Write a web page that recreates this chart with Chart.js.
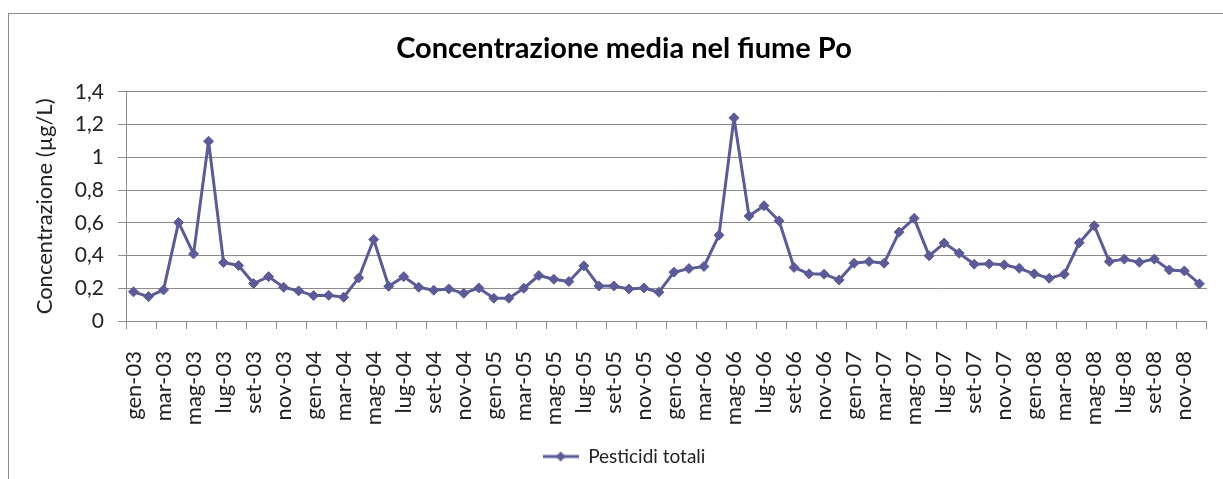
<!DOCTYPE html>
<html>
<head>
<meta charset="utf-8">
<script src="https://cdn.jsdelivr.net/npm/chart.js@4/dist/chart.umd.min.js"></script>
<style>
  html, body { margin: 0; padding: 0; background: #fff; overflow: hidden; }
  #frame { position: absolute; left: 8px; top: 13px; width: 1300px; height: 500px; border: 1px solid #8c8c8c; }
  #chart { position: absolute; left: 0; top: 0; }
</style>
</head>
<body>
<div id="frame"></div>
<canvas id="chart" width="1248" height="479"></canvas>
<script>
const months = ["gen", "feb", "mar", "apr", "mag", "giu", "lug", "ago", "set", "ott", "nov", "dic"];
const years = ["03", "04", "05", "06", "07", "08"];
const seriesName = "Pesticidi totali";
const pesticidi = [
  0.178, 0.149, 0.19, 0.602, 0.41, 1.098, 0.357, 0.339, 0.229, 0.271, 0.206, 0.184,
  0.155, 0.157, 0.145, 0.263, 0.498, 0.212, 0.271, 0.206, 0.188, 0.196, 0.169, 0.202,
  0.139, 0.139, 0.2, 0.278, 0.255, 0.241, 0.337, 0.214, 0.214, 0.196, 0.202, 0.176,
  0.298, 0.32, 0.333, 0.524, 1.241, 0.641, 0.704, 0.612, 0.327, 0.288, 0.286, 0.251,
  0.353, 0.363, 0.353, 0.543, 0.627, 0.398, 0.476, 0.414, 0.347, 0.349, 0.343, 0.322,
  0.288, 0.261, 0.286, 0.478, 0.582, 0.363, 0.378, 0.359, 0.378, 0.312, 0.306, 0.227
];
const yMin = 0, yMax = 1.4, yStep = 0.2;

const labels = [];
years.forEach((y) => months.forEach((m) => labels.push(m + "-" + y)));

const lineColor = "#5b5b97";
const gridColor = "#8c8c8c";
const font = "Lato";

// legend marker: short line with a diamond on it
const marker = document.createElement("canvas");
marker.width = 36; marker.height = 14;
const mctx = marker.getContext("2d");
mctx.strokeStyle = lineColor; mctx.lineWidth = 3;
mctx.beginPath(); mctx.moveTo(0, 7); mctx.lineTo(36, 7); mctx.stroke();
mctx.fillStyle = lineColor;
mctx.beginPath(); mctx.moveTo(18, 2); mctx.lineTo(23, 7); mctx.lineTo(18, 12); mctx.lineTo(13, 7); mctx.closePath(); mctx.fill();

const ctx = document.getElementById("chart").getContext("2d");
new Chart(ctx, {
  type: "line",
  data: {
    labels: labels,
    datasets: [{
      label: seriesName,
      data: pesticidi,
      borderColor: lineColor,
      backgroundColor: lineColor,
      borderWidth: 3,
      borderJoinStyle: "round",
      tension: 0,
      pointStyle: "rectRot",
      pointRadius: 5,
      pointBorderWidth: 1,
      pointBackgroundColor: lineColor,
      pointBorderColor: lineColor
    }]
  },
  options: {
    responsive: false,
    animation: false,
    layout: { padding: { left: 34, right: 34, top: 0, bottom: 3 } },
    plugins: {
      title: {
        display: true,
        text: "Concentrazione media nel fiume Po",
        color: "#000",
        font: { family: font, size: 29, weight: "bold" },
        padding: { top: 31, bottom: 26 }
      },
      legend: {
        position: "bottom",
        labels: {
          color: "#222",
          font: { family: font, size: 19 },
          usePointStyle: true,
          pointStyle: marker,
          pointStyleWidth: 36,
          padding: 10
        }
      },
      tooltip: { enabled: false }
    },
    scales: {
      x: {
        offset: true,
        afterFit: (scale) => { scale.height = 116; },
        grid: {
          offset: true,
          drawOnChartArea: false,
          tickLength: 8,
          color: (c) => (c.index === undefined || c.index % 2 === 0) ? gridColor : "rgba(0,0,0,0)"
        },
        border: { color: gridColor },
        ticks: {
          autoSkip: false,
          minRotation: 90,
          maxRotation: 90,
          padding: 22,
          color: "#222",
          font: { family: font, size: 22 },
          callback: (v, i) => i % 2 === 0 ? labels[i] : ""
        }
      },
      y: {
        min: yMin,
        max: yMax,
        afterFit: (scale) => { scale.width = 92; },
        grid: { color: gridColor, tickLength: 8 },
        border: { color: gridColor },
        ticks: {
          stepSize: yStep,
          padding: 14,
          color: "#222",
          font: { family: font, size: 21 },
          callback: (v) => String(Math.round(v * 10) / 10).replace(".", ",")
        },
        title: {
          display: true,
          text: "Concentrazione (µg/L)",
          color: "#222",
          font: { family: font, size: 22, lineHeight: 1 },
          padding: { top: 0, bottom: 0 }
        }
      }
    }
  }
});
</script>
</body>
</html>
